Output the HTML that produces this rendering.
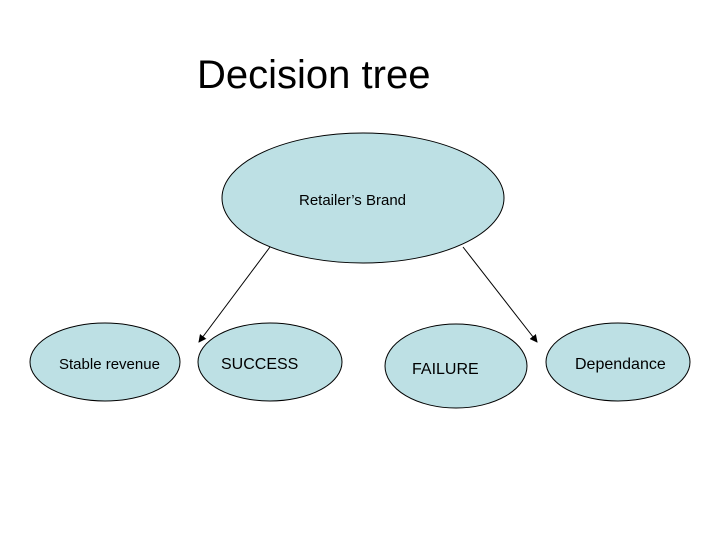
<!DOCTYPE html>
<html><head><style>
body{margin:0;background:#fff}
svg{display:block}
text{font-family:"Liberation Sans",sans-serif;fill:#000}
</style></head><body>
<svg width="720" height="540" viewBox="0 0 720 540">
<defs><marker id="a" markerWidth="8" markerHeight="8" refX="7" refY="4" orient="auto" markerUnits="userSpaceOnUse"><path d="M0,0 L8,4 L0,8 z" fill="#000"/></marker></defs>
<text x="197" y="88" font-size="40">Decision tree</text>
<g fill="#bde0e4" stroke="#000" stroke-width="1">
<ellipse cx="363" cy="198" rx="141" ry="65"/>
<ellipse cx="105" cy="362" rx="75" ry="39"/>
<ellipse cx="270" cy="362" rx="72" ry="39"/>
<ellipse cx="456" cy="366" rx="71" ry="42"/>
<ellipse cx="618" cy="362" rx="72" ry="39"/>
</g>
<line x1="270" y1="247" x2="199" y2="342" stroke="#000" marker-end="url(#a)"/>
<line x1="463" y1="247" x2="537" y2="342" stroke="#000" marker-end="url(#a)"/>
<text x="299" y="205" font-size="15">Retailer’s Brand</text>
<text x="59" y="369" font-size="15">Stable revenue</text>
<text x="221" y="369" font-size="16">SUCCESS</text>
<text x="412" y="374" font-size="16">FAILURE</text>
<text x="575" y="369" font-size="16">Dependance</text>
</svg>
</body></html>
